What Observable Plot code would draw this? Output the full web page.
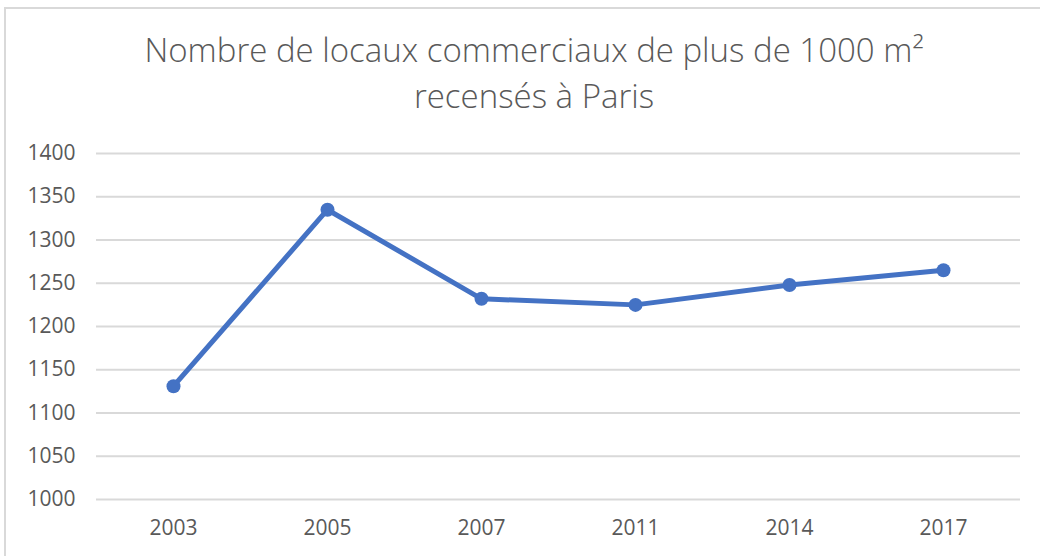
<!DOCTYPE html>
<html>
<head>
<meta charset="utf-8">
<script src="https://cdn.jsdelivr.net/npm/d3@7"></script>
<script src="https://cdn.jsdelivr.net/npm/@observablehq/plot@0.6"></script>
<style>
  html, body { margin: 0; padding: 0; background: #fff; overflow: hidden; }
  #frame { position: absolute; left: 4px; top: 7px; width: 1100px; height: 600px; border: 2px solid #d9d9d9; box-sizing: border-box; }
  #title { position: absolute; left: 0; top: 0; width: 1068px; height: 130px; text-align: center;
           font-family: "Open Sans", sans-serif; font-weight: 300; font-size: 33px; color: #595959; line-height: 46px; padding-top: 27px; box-sizing: border-box; }
  #chart { position: absolute; left: 0; top: 130px; }
</style>
</head>
<body>
<div id="frame"></div>
<div id="title">Nombre de locaux commerciaux de plus de 1000 m²<br>recensés à Paris</div>
<div id="chart"></div>
<script>
const years = ["2003", "2005", "2007", "2011", "2014", "2017"];
const values = [1131, 1335, 1232, 1225, 1248, 1265];
const yTicks = [1000, 1050, 1100, 1150, 1200, 1250, 1300, 1350, 1400];

const data = years.map((y, i) => ({year: y, value: values[i]}));

const chart = Plot.plot({
  width: 1040,
  height: 426,
  marginTop: 23,
  marginBottom: 57,
  marginLeft: 96,
  marginRight: 20,
  style: {fontFamily: "Open Sans", fontSize: "21px", color: "#595959", background: "transparent"},
  x: {type: "point", domain: years, padding: 0.5, label: null},
  y: {domain: [1000, 1400], label: null},
  marks: [
    Plot.gridY(yTicks, {stroke: "#d9d9d9", strokeOpacity: 1, strokeWidth: 2}),
    Plot.axisY(yTicks, {tickSize: 0, tickPadding: 21, label: null, fill: "#595959", tickFormat: d => String(d)}),
    Plot.axisX(years, {tickSize: 0, tickPadding: 21, label: null, fill: "#595959"}),
    Plot.line(data, {x: "year", y: "value", stroke: "#4472C4", strokeWidth: 5, strokeLinejoin: "round"}),
    Plot.dot(data, {x: "year", y: "value", r: 7, fill: "#4472C4", stroke: "none"})
  ]
});
document.getElementById("chart").appendChild(chart);
</script>
</body>
</html>
